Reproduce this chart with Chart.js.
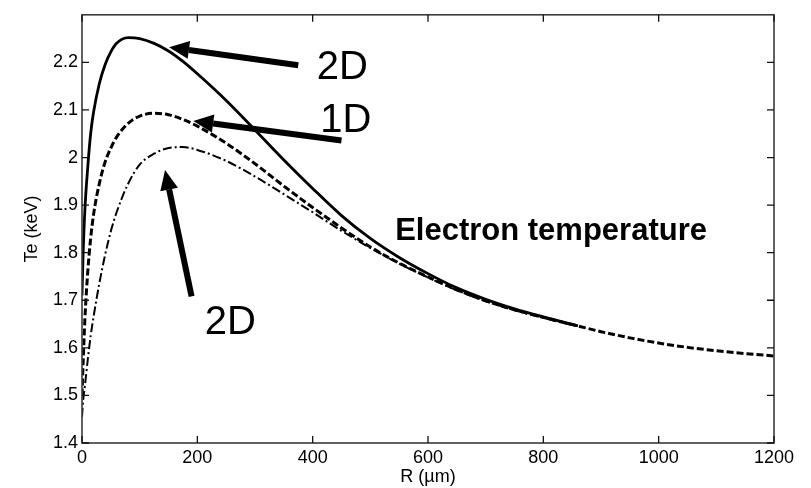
<!DOCTYPE html>
<html>
<head>
<meta charset="utf-8">
<script src="https://cdn.jsdelivr.net/npm/chart.js@4.4.1/dist/chart.umd.min.js"></script>
<style>
  html, body { margin: 0; padding: 0; background: #fff; }
</style>
</head>
<body>
<canvas id="teChart" width="811" height="488"></canvas>
<script>
// Electron temperature Te (keV) against radius R (um)
const radiusShort = [0, 2, 5, 10, 15, 20, 30, 40, 50, 60, 80, 100, 125, 150, 175, 200, 250, 300, 350, 400, 450, 500, 550, 600, 650, 700, 750, 800, 860];
const radiusLong = [0, 2, 5, 10, 15, 20, 30, 40, 50, 60, 80, 100, 125, 150, 175, 200, 250, 300, 350, 400, 450, 500, 550, 600, 650, 700, 750, 800, 860, 900, 950, 1000, 1050, 1100, 1150, 1200];

// 2D run (solid)
const te2D = [1.71, 1.80, 1.89, 1.98, 2.05, 2.095, 2.155, 2.195, 2.222, 2.24, 2.252, 2.25, 2.24, 2.224, 2.202, 2.176, 2.12, 2.058, 1.995, 1.935, 1.878, 1.83, 1.79, 1.756, 1.726, 1.702, 1.682, 1.665, 1.646];
// 1D run (dashed)
const te1D = [1.50, 1.57, 1.66, 1.76, 1.83, 1.88, 1.945, 1.99, 2.02, 2.043, 2.072, 2.087, 2.093, 2.09, 2.08, 2.066, 2.03, 1.987, 1.94, 1.895, 1.852, 1.812, 1.778, 1.749, 1.722, 1.699, 1.68, 1.664, 1.646, 1.634, 1.621, 1.61, 1.601, 1.594, 1.588, 1.583];
// second 2D run (dash-dot)
const te2DLow = [1.455, 1.49, 1.52, 1.575, 1.625, 1.665, 1.735, 1.795, 1.845, 1.885, 1.945, 1.985, 2.008, 2.02, 2.022, 2.016, 1.993, 1.96, 1.923, 1.885, 1.846, 1.81, 1.777, 1.748, 1.721, 1.698, 1.679, 1.663, 1.645];

const xTicks = [0, 200, 400, 600, 800, 1000, 1200];
const yTicks = [1.4, 1.5, 1.6, 1.7, 1.8, 1.9, 2.0, 2.1, 2.2];

// arrow annotations, in data units (R, Te)
const noteText = ['2D', '1D', '2D'];
const noteTextR = [407, 413, 213];
const noteTextTe = [2.165, 2.054, 1.629];
const arrowTipR = [151, 193, 144];
const arrowTipTe = [2.232, 2.077, 1.974];
const arrowTailR = [375, 450, 190];
const arrowTailTe = [2.194, 2.036, 1.708];

const captionText = 'Electron temperature';
const captionR = 543;
const captionTe = 1.826;

const FONT = "'Liberation Sans', Arial, Helvetica, sans-serif";

function toPoints(xs, ys) {
    return ys.map((v, i) => ({ x: xs[i], y: v }));
}

// box, inward tick marks, arrows and text labels
const framePlugin = {
    id: 'framePlugin',
    afterDatasetsDraw(chart) {
        const { ctx, chartArea: a, scales: { x, y } } = chart;
        ctx.save();

        ctx.strokeStyle = '#3a3a3a';
        ctx.lineWidth = 1.6;
        ctx.strokeRect(a.left, a.top, a.right - a.left, a.bottom - a.top);

        ctx.beginPath();
        xTicks.forEach(v => {
            const px = x.getPixelForValue(v);
            ctx.moveTo(px, a.bottom); ctx.lineTo(px, a.bottom - 7);
            ctx.moveTo(px, a.top); ctx.lineTo(px, a.top + 7);
        });
        yTicks.forEach(v => {
            const py = y.getPixelForValue(v);
            ctx.moveTo(a.left, py); ctx.lineTo(a.left + 7, py);
            ctx.moveTo(a.right, py); ctx.lineTo(a.right - 7, py);
        });
        ctx.lineWidth = 1.3;
        ctx.strokeStyle = '#111';
        ctx.stroke();

        // thick arrows
        ctx.fillStyle = '#000';
        ctx.strokeStyle = '#000';
        for (let i = 0; i < arrowTipR.length; i++) {
            const tx = x.getPixelForValue(arrowTipR[i]);
            const ty = y.getPixelForValue(arrowTipTe[i]);
            const sx = x.getPixelForValue(arrowTailR[i]);
            const sy = y.getPixelForValue(arrowTailTe[i]);
            const ang = Math.atan2(ty - sy, tx - sx);
            const headLen = 20, headHalf = 9;
            const bx = tx - headLen * Math.cos(ang);
            const by = ty - headLen * Math.sin(ang);
            ctx.lineWidth = 6;
            ctx.lineCap = 'butt';
            ctx.beginPath();
            ctx.moveTo(sx, sy);
            ctx.lineTo(bx, by);
            ctx.stroke();
            ctx.beginPath();
            ctx.moveTo(tx, ty);
            ctx.lineTo(bx + headHalf * Math.sin(ang), by - headHalf * Math.cos(ang));
            ctx.lineTo(bx - headHalf * Math.sin(ang), by + headHalf * Math.cos(ang));
            ctx.closePath();
            ctx.fill();
        }

        ctx.textAlign = 'left';
        ctx.textBaseline = 'alphabetic';
        ctx.font = '40px ' + FONT;
        noteText.forEach((t, i) => {
            ctx.fillText(t, x.getPixelForValue(noteTextR[i]), y.getPixelForValue(noteTextTe[i]));
        });

        ctx.font = 'bold 31px ' + FONT;
        ctx.fillText(captionText, x.getPixelForValue(captionR), y.getPixelForValue(captionTe));

        ctx.restore();
    }
};

function renderGraph() {
    const ctx = document.getElementById('teChart').getContext('2d');
    new Chart(ctx, {
        type: 'line',
        data: {
            datasets: [
                {
                    label: '2D',
                    data: toPoints(radiusShort, te2D),
                    borderColor: '#000',
                    borderWidth: 2.8,
                    pointRadius: 0,
                    cubicInterpolationMode: 'monotone'
                },
                {
                    label: '1D',
                    data: toPoints(radiusLong, te1D),
                    borderColor: '#000',
                    borderWidth: 3,
                    borderDash: [7, 3],
                    pointRadius: 0,
                    cubicInterpolationMode: 'monotone'
                },
                {
                    label: '2D',
                    data: toPoints(radiusShort, te2DLow),
                    borderColor: '#000',
                    borderWidth: 2,
                    borderDash: [9, 3, 2, 3],
                    pointRadius: 0,
                    cubicInterpolationMode: 'monotone'
                }
            ]
        },
        options: {
            responsive: false,
            animation: false,
            devicePixelRatio: 1,
            layout: { padding: { top: 10, right: 37, bottom: 0, left: 0 } },
            plugins: {
                legend: { display: false },
                tooltip: { enabled: false }
            },
            scales: {
                x: {
                    type: 'linear',
                    min: 0,
                    max: 1200,
                    afterBuildTicks: s => { s.ticks = xTicks.map(v => ({ value: v })); },
                    afterFit: s => { s.height = 45; },
                    grid: { display: false, drawTicks: false },
                    border: { display: false },
                    ticks: {
                        color: '#000',
                        font: { family: FONT, size: 18 },
                        padding: 4,
                        maxRotation: 0,
                        autoSkip: false,
                        callback: v => String(v)
                    },
                    title: {
                        display: true,
                        text: 'R (\u00b5m)',
                        color: '#000',
                        font: { family: FONT, size: 18 },
                        padding: { top: 0, bottom: 0 }
                    }
                },
                y: {
                    type: 'linear',
                    min: 1.4,
                    max: 2.3,
                    afterBuildTicks: s => { s.ticks = yTicks.map(v => ({ value: v })); },
                    afterFit: s => { s.width = 82; },
                    grid: { display: false, drawTicks: false },
                    border: { display: false },
                    ticks: {
                        color: '#000',
                        font: { family: FONT, size: 18 },
                        padding: 4,
                        callback: v => String(Number(v.toFixed(1)))
                    },
                    title: {
                        display: true,
                        text: 'Te (keV)',
                        color: '#000',
                        font: { family: FONT, size: 18 },
                        padding: { top: 21, bottom: 0 }
                    }
                }
            }
        },
        plugins: [framePlugin]
    });
}

document.addEventListener('DOMContentLoaded', renderGraph);
</script>
</body>
</html>
